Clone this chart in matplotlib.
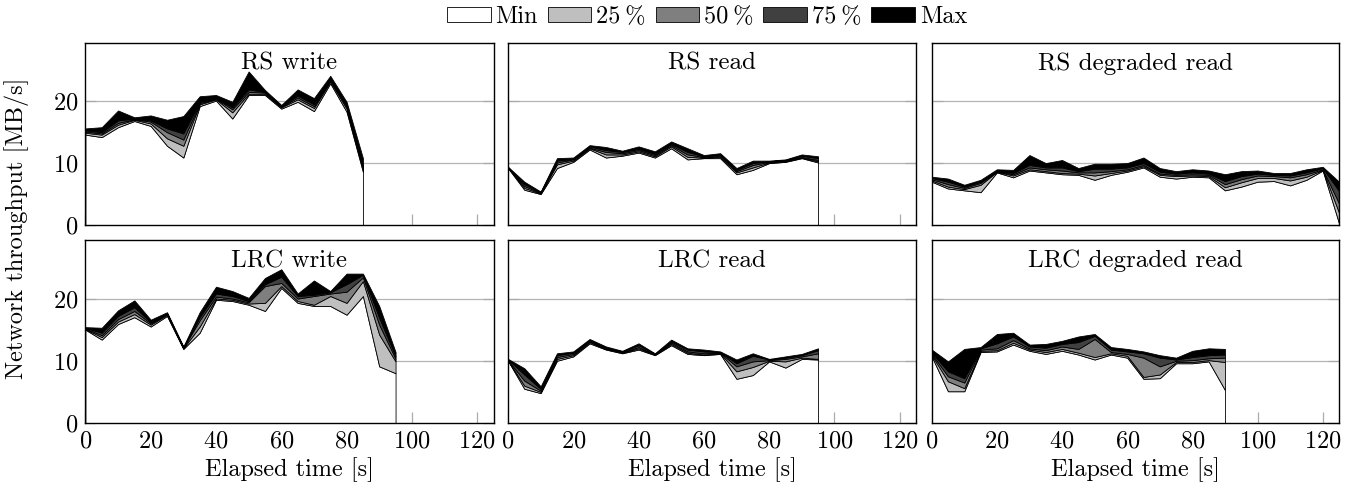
import matplotlib
matplotlib.use("Agg")
import matplotlib.pyplot as plt
from matplotlib.patches import Patch

plt.rcParams['font.family'] = ['cmr10', 'DejaVu Serif']
plt.rcParams['mathtext.fontset'] = 'cm'
plt.rcParams['axes.formatter.use_mathtext'] = True

step = 5
levels = ["Min", "25\u2009%", "50\u2009%", "75\u2009%", "Max"]
colors = ["white", "#bfbfbf", "#7f7f7f", "#404040", "black"]

titles = ["RS write", "RS read", "RS degraded read",
          "LRC write", "LRC read", "LRC degraded read"]

rs_write_min = [14.6,14.2,15.8,16.8,16.0,12.8,10.9,19.2,20.1,17.2,21.0,21.0,18.8,19.9,18.4,22.9,18.3,8.6]
rs_write_p25 = [14.9,14.6,16.2,17.0,16.4,14.0,12.8,19.5,20.3,18.2,21.2,21.2,19.0,20.3,18.9,23.2,18.8,9.0]
rs_write_p50 = [15.1,14.8,16.5,17.1,16.7,15.0,13.8,19.7,20.4,18.7,21.5,21.4,19.1,20.6,19.2,23.4,19.1,9.3]
rs_write_p75 = [15.3,15.0,16.9,17.2,16.9,15.6,14.8,19.9,20.5,19.0,21.9,21.5,19.2,20.9,19.5,23.6,19.4,9.7]
rs_write_max = [15.6,15.8,18.5,17.4,17.7,17.0,17.6,20.8,21.0,19.9,24.8,21.8,19.4,21.9,20.5,24.1,19.9,10.8]

rs_read_min = [9.2,5.7,5.0,9.2,10.2,12.2,10.9,11.2,11.7,10.9,12.4,10.6,10.8,10.8,8.2,8.9,10.0,10.2,10.8,10.1]
rs_read_p25 = [9.25,6.0,5.1,9.8,10.4,12.4,11.4,11.4,11.9,11.1,12.7,11.0,10.9,11.0,8.5,9.3,10.1,10.3,10.9,10.3]
rs_read_p50 = [9.3,6.3,5.2,10.1,10.6,12.5,11.8,11.6,12.1,11.3,12.9,11.4,11.0,11.2,8.7,9.7,10.2,10.4,11.0,10.5]
rs_read_p75 = [9.35,6.6,5.3,10.4,10.7,12.7,12.1,11.8,12.3,11.5,13.1,11.8,11.1,11.4,8.9,10.0,10.3,10.5,11.2,10.8]
rs_read_max = [9.4,7.0,5.4,10.8,10.9,12.9,12.6,12.0,12.7,11.9,13.5,12.4,11.3,11.6,9.2,10.4,10.4,10.6,11.4,11.1]

rs_deg_min = [7.0,5.9,5.6,5.3,8.5,7.7,8.8,8.5,8.2,8.1,7.3,8.1,8.6,9.3,7.8,7.5,7.8,7.7,5.6,6.2,7.0,7.1,6.4,7.3,8.8,0.3]
rs_deg_p25 = [7.2,6.2,5.8,6.5,8.6,8.0,9.0,8.7,8.4,8.3,8.0,8.4,8.8,9.5,8.1,7.9,8.0,7.9,6.1,6.9,7.6,7.6,7.2,7.8,8.9,2.0]
rs_deg_p50 = [7.4,6.6,6.0,6.8,8.7,8.2,9.3,9.0,8.8,8.5,8.5,8.7,9.0,9.7,8.3,8.1,8.2,8.1,6.6,7.4,8.0,7.9,7.7,8.2,9.0,3.5]
rs_deg_p75 = [7.6,7.0,6.2,7.0,8.8,8.4,9.7,9.3,9.3,8.7,9.1,9.1,9.3,10.0,8.6,8.3,8.5,8.3,7.1,7.9,8.3,8.1,8.0,8.5,9.2,5.5]
rs_deg_max = [7.8,7.5,6.5,7.3,9.0,8.9,11.3,10.0,10.5,9.2,9.9,9.9,10.0,10.9,9.2,8.7,9.0,8.8,8.2,8.7,8.8,8.4,8.4,9.0,9.4,7.0]

lrc_write_min = [15.0,13.4,15.9,17.0,15.5,17.2,11.9,14.5,19.8,19.6,19.0,18.0,21.7,19.3,18.8,18.8,17.4,20.4,9.1,8.0]
lrc_write_p25 = [15.1,13.8,16.3,17.5,15.8,17.4,12.0,15.5,20.0,19.8,19.2,19.3,22.0,19.6,19.0,20.4,19.3,22.8,14.2,9.9]
lrc_write_p50 = [15.2,14.1,16.7,18.0,16.0,17.5,12.1,16.5,20.3,20.0,19.4,22.0,22.5,20.0,20.4,20.8,21.1,23.4,15.8,10.3]
lrc_write_p75 = [15.3,14.5,17.2,18.6,16.2,17.6,12.2,17.0,20.8,20.4,19.6,22.3,23.5,20.4,20.6,21.0,22.3,23.8,16.9,10.7]
lrc_write_max = [15.4,15.3,18.1,19.7,16.6,17.8,12.3,17.8,21.9,21.2,20.1,23.3,24.7,20.8,22.9,21.2,24.0,24.0,18.8,11.4]

lrc_read_min = [10.0,5.5,4.8,10.0,10.7,12.8,11.8,11.2,11.8,10.9,12.5,11.1,10.9,11.1,7.1,7.7,9.9,8.9,10.3,10.2]
lrc_read_p25 = [10.05,6.0,5.0,10.3,10.9,13.0,11.9,11.3,12.0,11.0,12.7,11.3,11.0,11.2,8.3,9.0,10.0,9.9,10.5,10.3]
lrc_read_p50 = [10.1,6.8,5.2,10.6,11.1,13.1,12.0,11.4,12.2,11.0,12.9,11.5,11.2,11.3,9.1,9.9,10.1,10.3,10.7,11.2]
lrc_read_p75 = [10.2,7.8,5.5,10.9,11.3,13.3,12.1,11.5,12.5,11.1,13.1,11.8,11.5,11.4,9.6,10.8,10.2,10.5,10.9,11.7]
lrc_read_max = [10.3,8.8,5.9,11.2,11.5,13.5,12.3,11.6,12.8,11.2,13.4,12.0,11.8,11.5,10.2,11.2,10.3,10.7,11.1,12.0]

lrc_deg_min = [10.7,5.1,5.1,11.4,11.5,12.6,11.6,11.1,11.6,11.0,10.2,11.0,10.5,7.1,7.2,9.6,9.6,9.9,5.3]
lrc_deg_p25 = [10.9,6.7,5.6,11.6,11.7,12.9,11.8,11.4,11.9,11.3,10.6,11.2,10.8,7.4,7.8,9.8,9.8,10.1,9.8]
lrc_deg_p50 = [11.1,7.5,6.5,11.8,12.0,13.3,12.0,11.7,12.3,11.9,13.5,11.4,11.1,10.5,9.1,10.0,10.1,10.4,10.5]
lrc_deg_p75 = [11.3,8.3,7.2,12.0,12.8,13.9,12.3,12.1,12.7,13.0,14.0,11.8,11.5,11.2,10.5,10.2,10.6,10.9,11.0]
lrc_deg_max = [11.8,9.9,11.9,12.2,14.3,14.5,12.6,12.7,13.2,13.9,14.3,12.2,11.9,11.5,10.9,10.5,11.6,12.0,11.9]

panels = [
    [rs_write_min, rs_write_p25, rs_write_p50, rs_write_p75, rs_write_max],
    [rs_read_min, rs_read_p25, rs_read_p50, rs_read_p75, rs_read_max],
    [rs_deg_min, rs_deg_p25, rs_deg_p50, rs_deg_p75, rs_deg_max],
    [lrc_write_min, lrc_write_p25, lrc_write_p50, lrc_write_p75, lrc_write_max],
    [lrc_read_min, lrc_read_p25, lrc_read_p50, lrc_read_p75, lrc_read_max],
    [lrc_deg_min, lrc_deg_p25, lrc_deg_p50, lrc_deg_p75, lrc_deg_max],
]

W, H = 1353, 491
fig = plt.figure(figsize=(W / 100, H / 100), dpi=100)

col_x = [(85.4, 493.5), (508, 916), (931.7, 1339)]
row_y = [(43, 225), (240, 423)]
FS = 17.5

for idx, (title, series) in enumerate(zip(titles, panels)):
    r, c = divmod(idx, 3)
    x0, x1 = col_x[c]
    yt, yb = row_y[r]
    ax = fig.add_axes([x0 / W, 1 - yb / H, (x1 - x0) / W, (yb - yt) / H])
    t = [i * step for i in range(len(series[0]))]
    lower = [0.0] * len(t)
    for k, (vals, col) in enumerate(zip(series, colors)):
        ax.fill_between(t, lower, vals, facecolor=col, edgecolor="black",
                        linewidth=0.6, zorder=2 + k * 0.01)
        lower = vals
    ax.set_xlim(0, 125)
    ax.set_ylim(0, 29.4)
    ax.set_xticks([0, 20, 40, 60, 80, 100, 120])
    ax.set_yticks([0, 10, 20])
    for gy in (10, 20):
        ax.axhline(gy, color="#b5b5b5", linewidth=0.9, zorder=1)
    ax.tick_params(direction="in", length=8, width=0.9, color="#aaaaaa",
                   labelsize=FS, top=False, right=True, pad=5)
    if c != 0:
        ax.tick_params(labelleft=False)
    if r == 0:
        ax.tick_params(labelbottom=False)
    else:
        ax.set_xlabel("Elapsed time [s]", fontsize=FS, labelpad=4)
    for sp in ax.spines.values():
        sp.set_linewidth(1.0)
        sp.set_zorder(5)
    ax.text(0.5, 0.885, title, transform=ax.transAxes, ha="center", va="center",
            fontsize=FS + 0.5, zorder=6)

fig.text(17 / W, 1 - 228 / H, "Network throughput [MB/s]", rotation=90,
         ha="center", va="center", fontsize=FS)

handles = [Patch(facecolor=col, edgecolor="black", linewidth=0.6) for col in colors]
fig.legend(handles, levels, loc="center", bbox_to_anchor=(707 / W, 1 - 17 / H),
           ncol=5, frameon=False, fontsize=FS, handlelength=1.8, handleheight=0.6,
           handletextpad=0.2, columnspacing=0.4, borderaxespad=0)

fig.savefig("out.png", dpi=100)
